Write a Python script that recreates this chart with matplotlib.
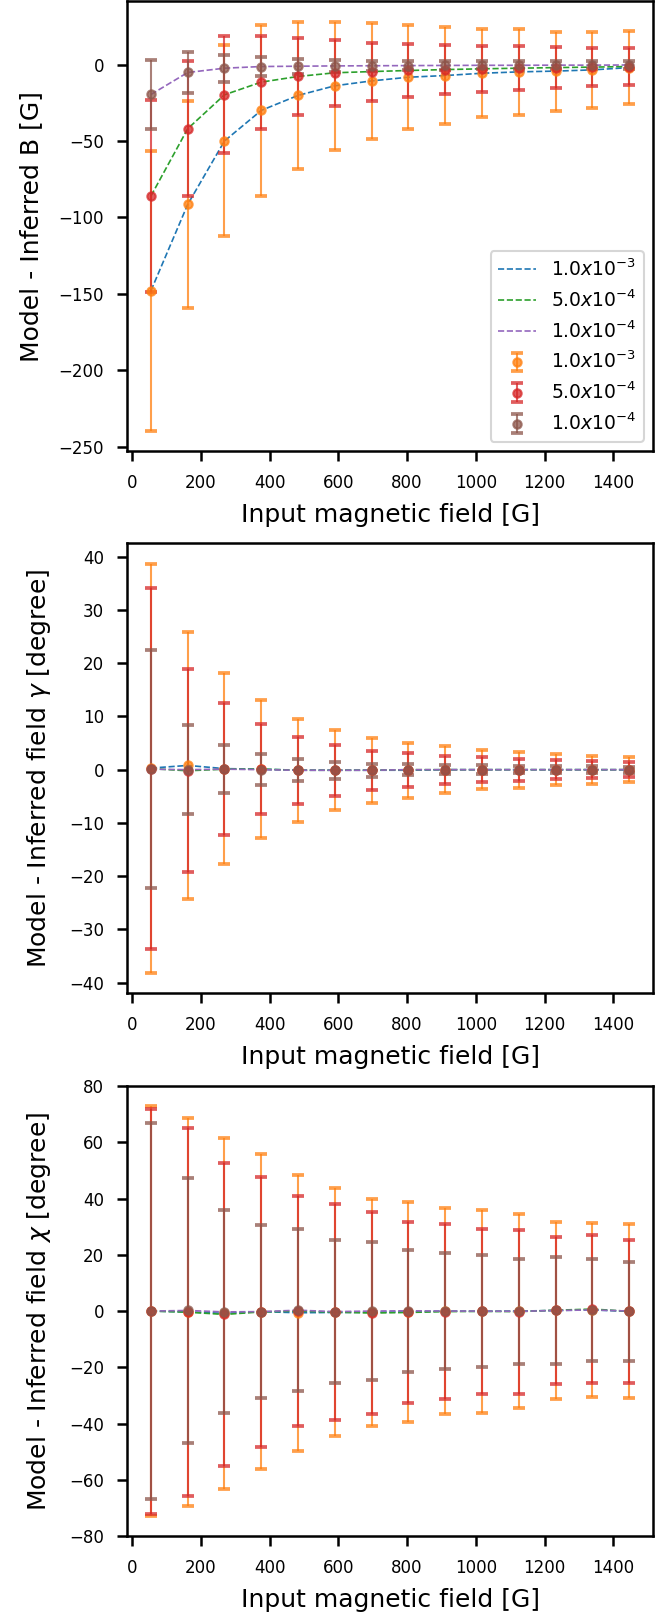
import matplotlib
matplotlib.use("Agg")
import matplotlib.pyplot as plt
import numpy as np

# input field strengths [G]
b_input = [55, 162, 269, 376, 483, 590, 697, 804, 911, 1018, 1125, 1232, 1339, 1446]

noise_labels = [r'1.0$x10^{-3}$', r'5.0$x10^{-4}$', r'1.0$x10^{-4}$']

# Model - inferred B [G], one list per noise level
dB_1e3 = [-148, -91.5, -50, -30, -20.2, -13.9, -10.7, -8.3, -7.2, -5.7, -4.8, -4.3, -3.5, -2.0]
dB_5e4 = [-86, -42, -19.8, -11.5, -7.8, -5.4, -4.6, -3.9, -3.3, -2.8, -2.4, -2.0, -1.7, -1.3]
dB_1e4 = [-19.6, -5.2, -2.4, -1.3, -1.1, -0.9, -0.8, -0.7, -0.6, -0.5, -0.5, -0.4, -0.4, -0.3]
eB_1e3 = [91.5, 67.5, 62.5, 55.7, 48.2, 42.0, 38.0, 34.2, 31.9, 28.9, 28.0, 25.9, 25.0, 23.9]
eB_5e4 = [62.5, 44.1, 38.3, 30.4, 25.0, 21.5, 19.0, 17.4, 16.1, 15.1, 14.2, 13.5, 12.5, 12.0]
eB_1e4 = [22.4, 13.5, 8.8, 6.5, 5.0, 3.9, 3.4, 2.9, 2.8, 2.7, 2.6, 2.5, 2.4, 2.3]

# Model - inferred inclination gamma [degree]
dg_1e3 = [0.3, 0.8, 0.2, 0.1, -0.1, -0.1, -0.1, -0.1, 0.0, 0.0, 0.0, 0.0, 0.0, 0.0]
dg_5e4 = [0.2, -0.2, 0.1, 0.1, -0.1, -0.1, -0.1, 0.0, 0.0, 0.0, 0.0, 0.0, 0.0, 0.0]
dg_1e4 = [0.1, 0.0, 0.1, 0.0, -0.1, -0.1, -0.1, 0.0, 0.0, 0.0, 0.0, 0.0, 0.0, 0.0]
eg_1e3 = [38.4, 25.0, 17.9, 12.9, 9.65, 7.55, 6.1, 5.15, 4.4, 3.7, 3.35, 2.9, 2.6, 2.35]
eg_5e4 = [33.9, 19.1, 12.45, 8.4, 6.25, 4.75, 3.7, 3.2, 2.6, 2.35, 2.05, 1.8, 1.6, 1.45]
eg_1e4 = [22.35, 8.4, 4.5, 2.9, 2.05, 1.6, 1.2, 1.05, 0.9, 0.8, 0.7, 0.65, 0.6, 0.55]

# Model - inferred azimuth chi [degree]
dc_1e3 = [0.0, -0.3, -0.8, -0.2, -0.6, -0.5, -0.4, -0.3, 0.0, -0.1, 0.0, 0.2, 0.4, -0.1]
dc_5e4 = [0.0, -0.4, -1.2, -0.3, 0.0, -0.4, -0.7, -0.5, -0.2, -0.1, -0.2, 0.3, 0.7, -0.1]
dc_1e4 = [0.0, 0.2, -0.3, -0.2, 0.3, -0.2, 0.0, 0.1, 0.0, 0.0, -0.1, 0.2, 0.4, 0.0]
ec_1e3 = [73.0, 69.0, 62.3, 55.9, 49.0, 44.1, 40.4, 39.0, 36.6, 36.0, 34.6, 31.5, 31.0, 30.9]
ec_5e4 = [72.0, 65.4, 54.0, 48.1, 41.0, 38.4, 35.9, 32.1, 31.1, 29.4, 29.2, 26.2, 26.2, 25.5]
ec_1e4 = [66.8, 47.2, 36.1, 30.8, 28.8, 25.5, 24.4, 21.6, 20.6, 19.8, 18.7, 18.9, 18.0, 17.6]

plt.rcParams['xtick.labelsize'] = 8
plt.rcParams['ytick.labelsize'] = 8
plt.rcParams['axes.linewidth'] = 1.2
plt.rcParams['xtick.major.width'] = 1.2
plt.rcParams['ytick.major.width'] = 1.2
plt.rcParams['xtick.major.size'] = 5
plt.rcParams['ytick.major.size'] = 5
plt.rcParams['xtick.major.pad'] = 6
plt.rcParams['ytick.major.pad'] = 6

fig = plt.figure(figsize=(671 / 150, 1615 / 150), dpi=150)

panels = [
    ([dB_1e3, dB_5e4, dB_1e4], [eB_1e3, eB_5e4, eB_1e4], 'Model - Inferred B [G]', 0.7207),
    ([dg_1e3, dg_5e4, dg_1e4], [eg_1e3, eg_5e4, eg_1e4], r'Model - Inferred field $\gamma$ [degree]', 0.3851),
    ([dc_1e3, dc_5e4, dc_1e4], [ec_1e3, ec_5e4, ec_1e4], r'Model - Inferred field $\chi$ [degree]', 0.0489),
]

line_colors = ['C0', 'C2', 'C4']
point_colors = ['C1', 'C3', 'C5']

for k, (vals, errs, ylabel, bottom) in enumerate(panels):
    ax = fig.add_axes([0.1893, bottom, 0.7839, 0.2786])
    for v, c, lab in zip(vals, line_colors, noise_labels):
        ax.plot(b_input, v, '--', color=c, lw=0.8, label=lab)
    for v, e, c, lab in zip(vals, errs, point_colors, noise_labels):
        ax.errorbar(b_input, v, yerr=e, fmt='o', color=c, ms=4, capsize=3,
                    elinewidth=1, capthick=1.8, alpha=0.75, label=lab)
    ax.set_xlabel('Input magnetic field [G]', fontsize=12, labelpad=5.5)
    ax.set_ylabel(ylabel, fontsize=12, labelpad=7.5)
    if k == 0:
        ax.legend(loc='lower right', fontsize=9)
    if k == 2:
        ax.set_ylim(-80, 80)

fig.savefig('out.png', dpi=150)
